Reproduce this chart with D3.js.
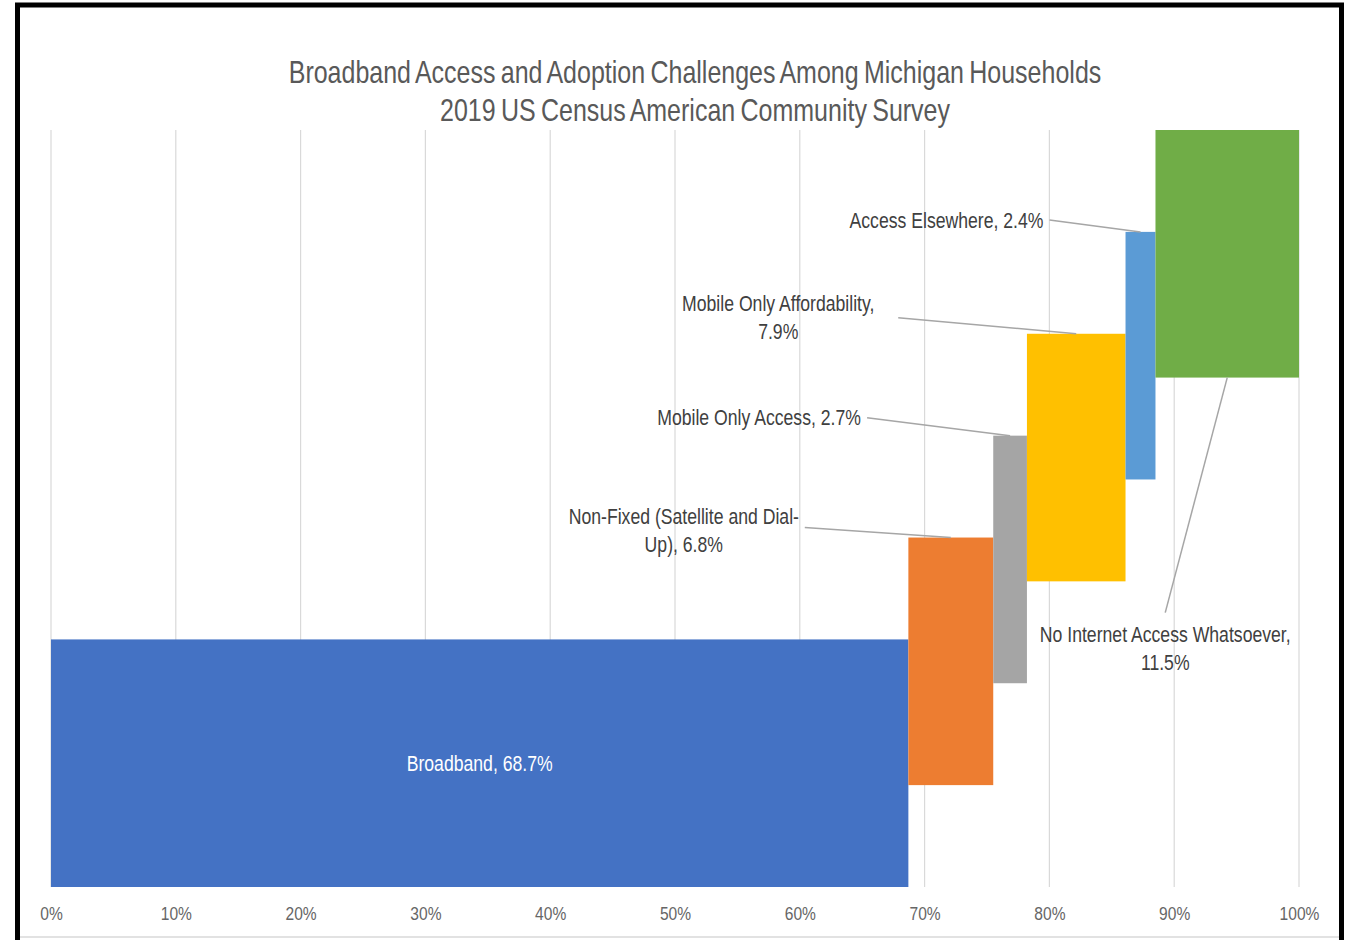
<!DOCTYPE html>
<html>
<head>
<meta charset="utf-8">
<script src="https://cdn.jsdelivr.net/npm/d3@7"></script>
<style>
  html, body { margin: 0; padding: 0; background: #fff; }
  svg { display: block; font-family: "Liberation Sans", Arial, sans-serif; }
</style>
</head>
<body>
<svg id="chart" width="1353" height="940"></svg>
<script>
// ---------- data ----------
const titleLines = [
  "Broadband Access and Adoption Challenges Among Michigan Households",
  "2019 US Census American Community Survey"
];
const categories = [
  "Broadband",
  "Non-Fixed (Satellite and Dial-Up)",
  "Mobile Only Access",
  "Mobile Only Affordability",
  "Access Elsewhere",
  "No Internet Access Whatsoever"
];
const shares = [68.7, 6.8, 2.7, 7.9, 2.4, 11.5];
const barColors = ["#4472C4", "#ED7D31", "#A5A5A5", "#FFC000", "#5B9BD5", "#70AD47"];
const xTickValues = [0, 10, 20, 30, 40, 50, 60, 70, 80, 90, 100];
// where Excel wrapped each data label (text after which the line breaks)
const labelBreaks = [null, "Dial-", null, "Affordability,", null, "Whatsoever,"];

// ---------- layout (pixels, not data) ----------
const W = 1353, H = 940;
const plot = { left: 51, right: 1299, top: 130, bottom: 887 };
const barSpan = 2.43;          // bar height measured in category steps
const SX = 0.82;               // horizontal condensation of the font
// label placement relative to each bar's anchor (top-centre, or bottom-centre for the last)
const labelLayout = [
  { inside: true },
  { dx: -267, dy: -21, lx: -146, ly: -10 },
  { dx: -251, dy: -18, lx: -143, ly: -18 },
  { dx: -298, dy: -30, lx: -178, ly: -16 },
  { dx: -194, dy: -12, lx: -91,  ly: -12 },
  { dx: -62,  dy: 257, lx: -62,  ly: 235, fromBottom: true }
];

const svg = d3.select("#chart");

// frame
svg.append("line").attr("x1", 20).attr("x2", 1339).attr("y1", 937).attr("y2", 937)
  .attr("stroke", "#d9d9d9").attr("stroke-width", 1.5);
svg.append("rect").attr("x", 17.5).attr("y", 5).attr("width", 1324).attr("height", 945)
  .attr("fill", "none").attr("stroke", "#000").attr("stroke-width", 5);

function addText(g, x, y, str, opts) {
  return g.append("text")
    .attr("transform", `translate(${x},${y}) scale(${SX},1)`)
    .attr("text-anchor", opts.anchor || "middle")
    .attr("dominant-baseline", "central")
    .style("font-size", opts.size + "px")
    .style("word-spacing", (opts.ws || 0) + "px")
    .attr("fill", opts.fill)
    .text(str);
}

// scales
const x = d3.scaleLinear().domain([0, 100]).range([plot.left, plot.right]);
const y = d3.scaleLinear().domain([0, categories.length - 1 + barSpan]).range([plot.bottom, plot.top]);

// cumulative starts
const starts = [];
shares.reduce((acc, v, i) => { starts[i] = acc; return acc + v; }, 0);
const bars = categories.map((c, i) => ({
  cat: c, value: shares[i], start: starts[i], color: barColors[i], level: i,
  brk: labelBreaks[i], lay: labelLayout[i]
}));

// title
titleLines.forEach((t, i) => {
  addText(svg, 695, 73 + i * 38, t, { size: 30.5, fill: "#595959", ws: -2 });
});

// gridlines
const grid = svg.append("g");
grid.selectAll("line").data(xTickValues).join("line")
  .attr("x1", d => x(d)).attr("x2", d => x(d))
  .attr("y1", plot.top).attr("y2", plot.bottom)
  .attr("stroke", "#d9d9d9").attr("stroke-width", 1.2);

// x axis tick labels (d3 axis, domain/ticks hidden)
const xAxis = d3.axisBottom(x).tickValues(xTickValues).tickSize(0).tickFormat(d => d + "%");
const axG = svg.append("g").attr("transform", `translate(0,${plot.bottom})`).call(xAxis);
axG.select(".domain").remove();
axG.selectAll(".tick text")
  .attr("y", 26).attr("dy", 0)
  .attr("dominant-baseline", "central")
  .attr("transform", `scale(${SX},1)`)
  .attr("x", 0)
  .style("font-size", "19px")
  .style("font-family", "\"Liberation Sans\", Arial, sans-serif")
  .attr("fill", "#666");

// bars
svg.append("g").selectAll("rect").data(bars).join("rect")
  .attr("x", d => x(d.start))
  .attr("width", d => x(d.start + d.value) - x(d.start))
  .attr("y", d => y(d.level + barSpan))
  .attr("height", d => y(d.level) - y(d.level + barSpan))
  .attr("fill", d => d.color);

// labels
const lab = svg.append("g");
bars.forEach(d => {
  const full = `${d.cat}, ${d.value}%`;
  let lines = [full];
  if (d.brk) {
    const k = full.indexOf(d.brk) + d.brk.length;
    lines = [full.slice(0, k).trim(), full.slice(k).trim()];
  }
  const cx = (x(d.start) + x(d.start + d.value)) / 2;
  if (d.lay.inside) {
    const cy = (y(d.level) + y(d.level + barSpan)) / 2;
    addText(lab, cx, cy, full, { size: 21.5, fill: "#ffffff" });
    return;
  }
  const ay = d.lay.fromBottom ? y(d.level) : y(d.level + barSpan);
  lab.append("line")
    .attr("x1", cx + d.lay.lx).attr("y1", ay + d.lay.ly)
    .attr("x2", cx).attr("y2", ay)
    .attr("stroke", "#a6a6a6").attr("stroke-width", 1.5);
  lines.forEach((t, j) => {
    addText(lab, cx + d.lay.dx, ay + d.lay.dy + j * 28, t, { size: 21.5, fill: "#404040" });
  });
});
</script>
</body>
</html>
